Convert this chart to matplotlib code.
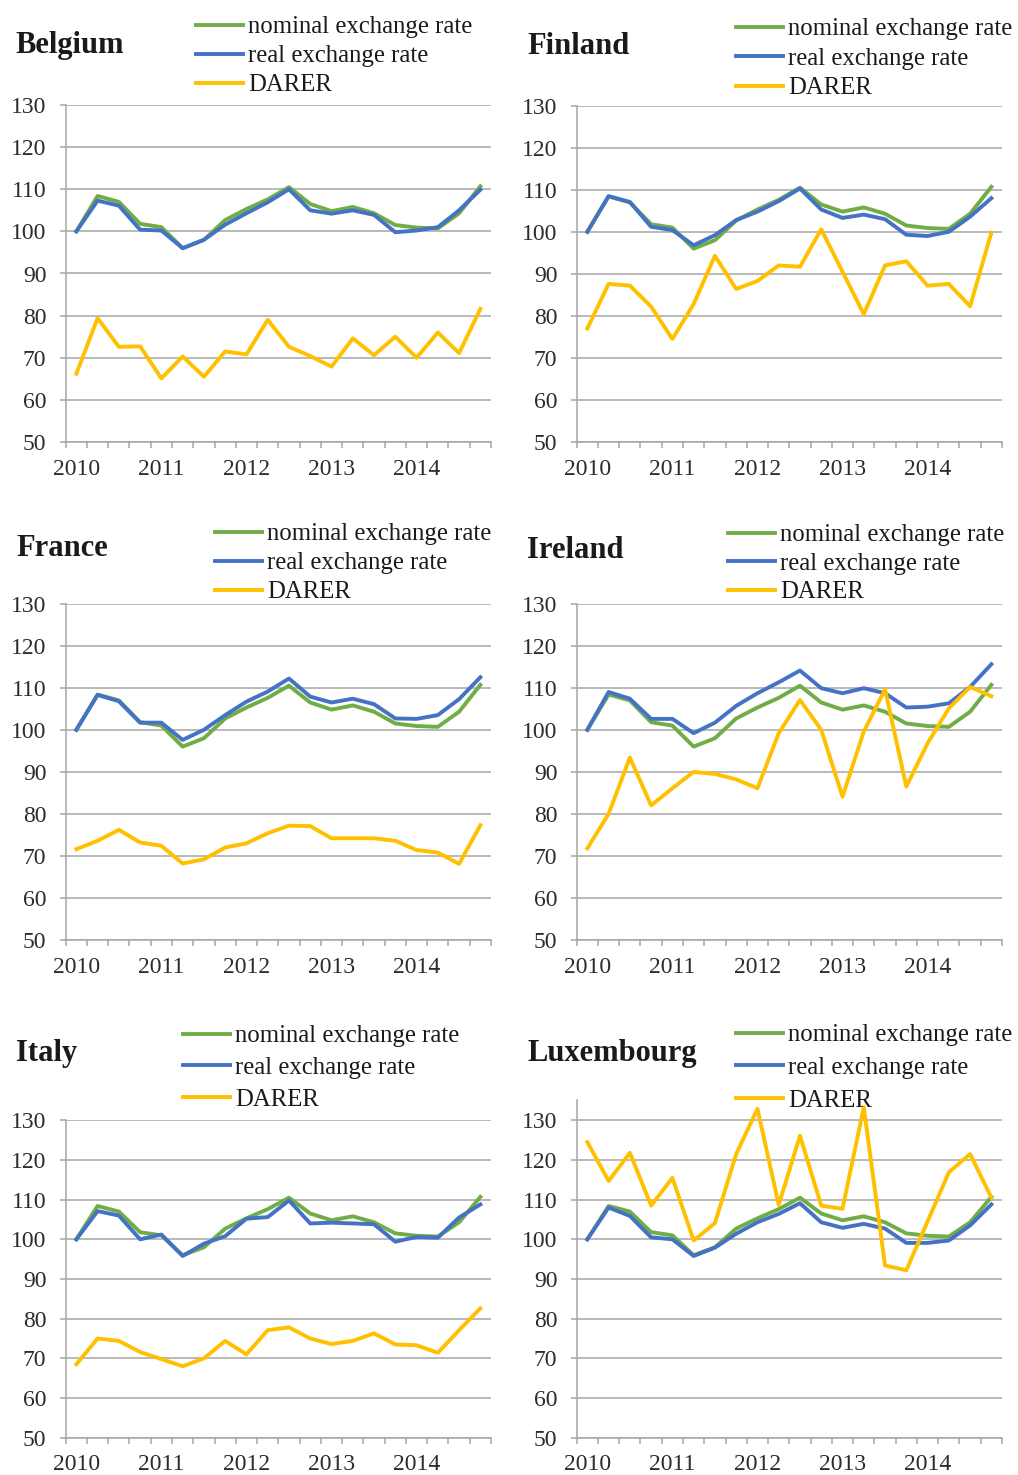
import numpy as np
import matplotlib.pyplot as plt

plt.rcParams['font.family'] = ['Liberation Serif', 'DejaVu Serif']

# quarterly index, 2010Q1 .. 2014Q4
quarters = np.arange(20)
year_pos = [0, 4, 8, 12, 16]
year_labels = ['2010', '2011', '2012', '2013', '2014']

# nominal exchange rate is the same series in every panel
nominal = [100, 108.4, 107.0, 101.8, 101.0, 96.0, 98.0, 102.7, 105.3, 107.6,
           110.5, 106.5, 104.8, 105.8, 104.3, 101.5, 100.9, 100.7, 104.3, 110.7]

belgium_real = [100, 107.3, 106.1, 100.4, 100.2, 96.0, 98.0, 101.6, 104.3, 106.9,
                110.0, 105.0, 104.2, 105.0, 103.9, 99.8, 100.2, 101.0, 105.0, 109.9]
belgium_darer = [66.2, 79.4, 72.6, 72.7, 65.1, 70.3, 65.5, 71.5, 70.8, 79.0,
                 72.6, 70.4, 67.9, 74.6, 70.6, 75.0, 70.0, 76.0, 71.1, 81.6]

finland_real = [100, 108.5, 107.1, 101.2, 100.4, 96.8, 99.2, 102.8, 104.8, 107.3,
                110.3, 105.3, 103.3, 104.1, 103.0, 99.3, 99.0, 100.0, 103.6, 108.0]
finland_darer = [77.0, 87.6, 87.2, 82.2, 74.5, 82.8, 94.3, 86.4, 88.3, 92.0,
                 91.7, 100.6, 90.5, 80.4, 92.0, 93.0, 87.2, 87.6, 82.3, 99.8]

france_real = [100, 108.3, 106.8, 101.7, 101.7, 97.6, 100.0, 103.5, 106.7, 109.1,
               112.2, 107.9, 106.5, 107.4, 106.1, 102.7, 102.6, 103.5, 107.3, 112.5]
france_darer = [71.6, 73.6, 76.2, 73.2, 72.4, 68.2, 69.2, 72.0, 73.0, 75.4,
                77.2, 77.1, 74.2, 74.2, 74.2, 73.6, 71.4, 70.8, 68.1, 77.3]

ireland_real = [100, 109.0, 107.4, 102.6, 102.6, 99.2, 101.7, 105.7, 108.7, 111.3,
                114.1, 109.9, 108.7, 109.9, 108.7, 105.3, 105.5, 106.3, 110.2, 115.6]
ireland_darer = [71.8, 80.0, 93.4, 82.0, 86.1, 90.0, 89.5, 88.2, 86.1, 99.2,
                 107.1, 100.0, 84.1, 99.6, 109.6, 86.5, 96.8, 105.1, 110.2, 108.0]

italy_real = [100, 107.1, 106.0, 100.0, 101.2, 95.8, 98.9, 100.8, 105.2, 105.6,
              109.8, 104.0, 104.2, 104.0, 103.8, 99.4, 100.6, 100.4, 105.5, 108.8]
italy_darer = [68.5, 75.0, 74.4, 71.6, 69.8, 68.0, 70.0, 74.4, 71.0, 77.1,
               77.8, 75.0, 73.6, 74.4, 76.3, 73.5, 73.3, 71.4, 77.1, 82.6]

lux_real = [100, 108.0, 105.9, 100.5, 100.0, 95.8, 97.9, 101.4, 104.3, 106.4,
            109.1, 104.3, 102.9, 103.9, 102.7, 99.1, 99.1, 99.7, 103.5, 108.8]
lux_darer = [124.5, 114.7, 121.8, 108.5, 115.5, 99.7, 104.1, 121.5, 132.9, 108.7,
             126.1, 108.5, 107.7, 133.3, 93.4, 92.2, 104.5, 116.9, 121.5, 110.5]

GREEN = '#70AD47'
BLUE = '#4472C4'
YELLOW = '#FFC000'
GRID = '#A6A6A6'

W, H = 1018, 1475
fig = plt.figure(figsize=(W / 100, H / 100), dpi=100)

# name, real, darer, axes box in pixels (left, y of 130, y of 50), ymax,
# title pos, legend pos (handle start x, top y), legend spacing
panels = [
    ('Belgium', belgium_real, belgium_darer, (65.7, 105, 442), 130, (15, 45), (196, 16), 0.27),
    ('Finland', finland_real, finland_darer, (576.7, 105.7, 442), 130, (527, 47), (736, 18), 0.29),
    ('France', france_real, france_darer, (65.7, 603.7, 940), 130, (16, 548), (215, 523), 0.27),
    ('Ireland', ireland_real, ireland_darer, (576.7, 603.7, 940), 130, (527, 550), (728, 524), 0.25),
    ('Italy', italy_real, italy_darer, (65.7, 1120.3, 1437.7), 130, (16, 1053), (183, 1025), 0.38),
    ('Luxembourg', lux_real, lux_darer, (576.7, 1120.3, 1437.7), 135, (527, 1053), (736, 1024), 0.42),
]

for name, real, darer, box, ymax, tpos, lpos, lsp in panels:
    left, top130, bot = box
    unit = (bot - top130) / 80.0
    top = bot - unit * (ymax - 50)
    ax = fig.add_axes([left / W, 1 - bot / H, 425.3 / W, (bot - top) / H])

    ax.plot(quarters, nominal, color=GREEN, lw=2.8, label='nominal exchange rate')
    ax.plot(quarters, real, color=BLUE, lw=2.8, label='real exchange rate')
    ax.plot(quarters, darer, color=YELLOW, lw=2.8, label='DARER')

    ax.set_xlim(-0.5, 19.5)
    ax.set_ylim(50, ymax)
    ax.set_yticks(range(50, 131, 10))
    ax.set_xticks(year_pos)
    ax.set_xticklabels(year_labels)
    ax.set_xticks(np.arange(-0.5, 20, 1), minor=True)
    ax.grid(axis='y', color=GRID, lw=1.1)
    ax.set_axisbelow(True)

    for s in ['top', 'right']:
        ax.spines[s].set_visible(False)
    for s in ['left', 'bottom']:
        ax.spines[s].set_color(GRID)
        ax.spines[s].set_linewidth(1.1)

    ax.tick_params(axis='y', length=4, width=1.1, color=GRID, pad=10,
                   labelsize=17, labelcolor='#2b2b2b')
    ax.tick_params(axis='x', which='major', length=0, pad=12,
                   labelsize=17, labelcolor='#2b2b2b')
    ax.tick_params(axis='x', which='minor', length=4, width=1.1, color=GRID)

    fig.text(tpos[0] / W, 1 - tpos[1] / H, name, fontsize=22, fontweight='bold',
             color='#1a1a1a', ha='left', va='center')

    ax.legend(loc='upper left', bbox_to_anchor=(lpos[0] / W, 1 - lpos[1] / H),
              bbox_transform=fig.transFigure, frameon=False, fontsize=17.8,
              borderpad=0, borderaxespad=0, handlelength=1.9, handletextpad=0.2,
              labelspacing=lsp, labelcolor='#1a1a1a')

fig.savefig('out.png', dpi=100)
